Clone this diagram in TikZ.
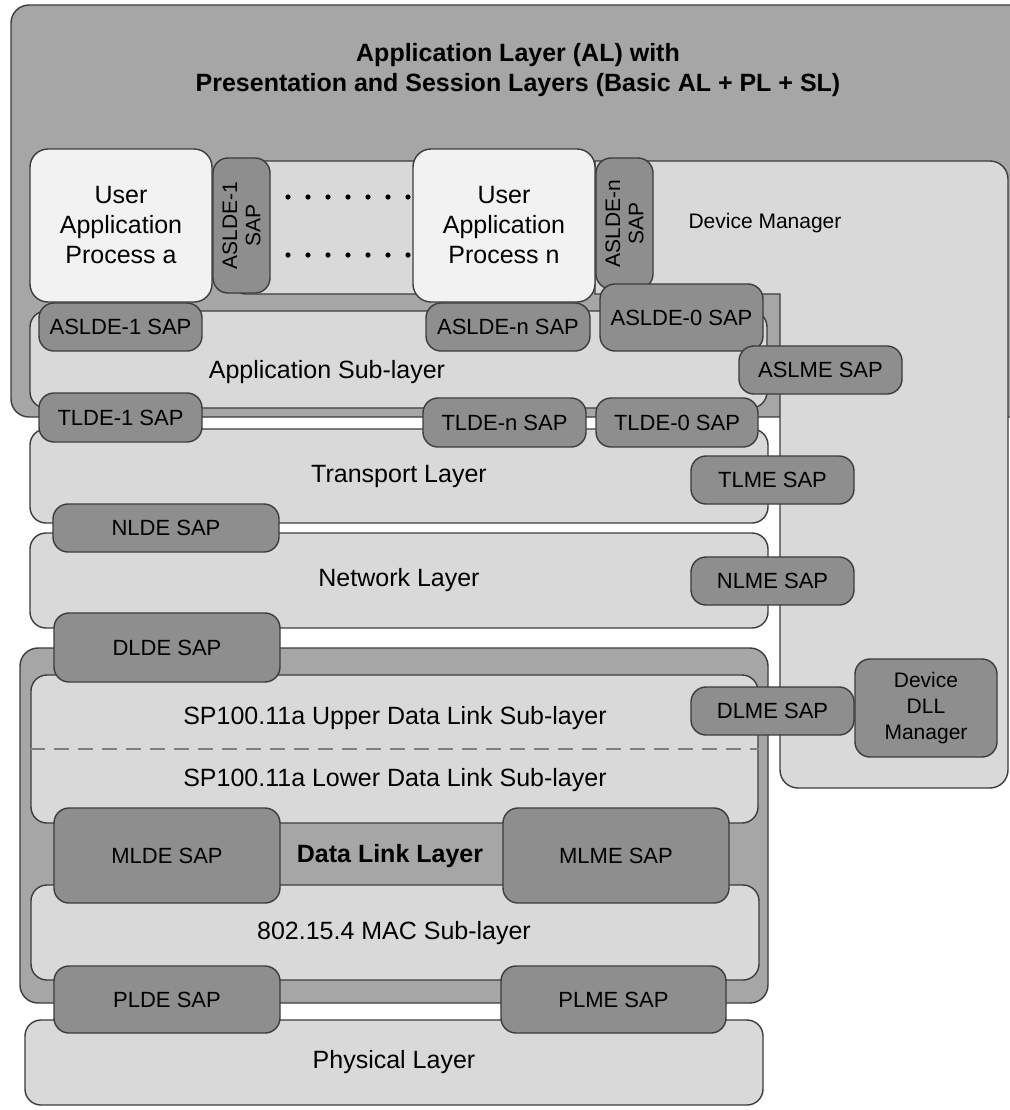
\documentclass[tikz,border=0pt]{standalone}
\usepackage{fontspec}
\setmainfont{Liberation Sans}
\usepackage{xcolor}
\usetikzlibrary{fit}
\definecolor{algray}{HTML}{A6A6A6}
\definecolor{sapgray}{HTML}{8E8E8E}
\definecolor{layergray}{HTML}{D9D9D9}
\definecolor{procgray}{HTML}{F2F2F2}
\definecolor{edgegray}{HTML}{3C3C3C}
\definecolor{dashgray}{HTML}{7F7F7F}
\tikzset{x=0.5pt, y=-0.5pt,
         every node/.style={inner sep=0pt},
         base/.style={draw=edgegray, line width=0.7pt, rounded corners=8pt},
         bigtext/.style={align=center, font=\fontsize{12.5}{15}\selectfont},
         saptext/.style={align=center, font=\fontsize{11}{13}\selectfont},
         vsaptext/.style={rotate=90, align=center, font=\fontsize{10.5}{11.7}\selectfont},
         layer/.style={base, fill=layergray, label={[bigtext]center:#1}},
         layer/.default={},
         outer/.style={base, fill=algray, rounded corners=9pt},
         proc/.style={base, fill=procgray, rounded corners=9pt, label={[bigtext]center:#1}},
         sap/.style={base, fill=sapgray, rounded corners=7.5pt, label={[saptext]center:#1}},
         vsap/.style={base, fill=sapgray, rounded corners=7.5pt, label={[vsaptext]center:#1}},
         lbl/.style={bigtext},
         boldlbl/.style={align=center, font=\fontsize{12.5}{15}\selectfont\bfseries},
         dashline/.style={draw=dashgray, line width=1.4pt, dash pattern=on 7.5pt off 4.5pt},
         }

\begin{document}
\begin{tikzpicture}
    \useasboundingbox (0,0) rectangle (1010,1110);
    \clip (0,0) rectangle (1010,1110);

    \node[outer, fit={(11,5) (1040,417)}] (al) {};
    \node[boldlbl] (altitle) at (518,70) {Application Layer (AL) with\\Presentation and Session Layers (Basic AL + PL + SL)};

    \draw[layer] (595,161) [rounded corners=9pt] -- (1008,161) -- (1008,788) -- (780,788)
                 [sharp corners] -- (780,294) -- (595,294) -- cycle;
    \node[lbl, font=\fontsize{10.5}{13}\selectfont] (dm) at (765,223) {Device Manager};

    \node[layer, fit={(230,161) (440,294)}] (procarea) {};
    \foreach \i in {0,...,6} {
        \fill (288+20*\i,197) circle (1.3pt);
        \fill (288+20*\i,255) circle (1.3pt);
    }
    \node[proc={User\\Application\\Process a}, fit={(30,149) (212,302)}] (uapa) {};
    \node[proc={User\\Application\\Process n}, fit={(413,149) (595,302)}] (uapn) {};
    \node[vsap={ASLDE-1\\SAP}, fit={(213,158) (270,293)}] (asldeva) {};
    \node[vsap={ASLDE-n\\SAP}, fit={(596,158) (653,289)}] (asldevn) {};

    \node[layer, fit={(30,311) (767,408)}] (asl) {};
    \node[lbl] (asltext) at (327,372) {Application Sub-layer};
    \node[sap={ASLDE-1 SAP}, fit={(39,303) (202,351)}] (asldea) {};
    \node[sap={ASLDE-n SAP}, fit={(426,303) (590,351)}] (asldn) {};
    \node[sap={ASLDE-0 SAP}, fit={(600,284) (763,351)}] (aslde0) {};
    \node[sap={ASLME SAP}, fit={(739,346) (902,394)}] (aslme) {};

    \node[layer={Transport Layer}, fit={(30,429) (768,523)}] (tl) {};
    \node[sap={TLDE-1 SAP}, fit={(39,393) (202,442)}] (tldea) {};
    \node[sap={TLDE-n SAP}, fit={(423,398) (586,447)}] (tlden) {};
    \node[sap={TLDE-0 SAP}, fit={(596,398) (758,447)}] (tlde0) {};
    \node[sap={TLME SAP}, fit={(691,456) (854,504)}] (tlme) {};
    \node[layer={Network Layer}, fit={(30,533) (768,628)}] (nl) {};
    \node[sap={NLDE SAP}, fit={(53,504) (279,552)}] (nlde) {};
    \node[sap={NLME SAP}, fit={(691,557) (854,605)}] (nlme) {};

    \node[outer, fit={(20,648) (768,1003)}] (dll) {};
    \node[layer, fit={(31,675) (758,823)}] (dlsub) {};
    \draw[dashline] (dlsub.west) -- (dlsub.east);
    \node[lbl] (udl) at (395,718) {SP100.11a Upper Data Link Sub-layer};
    \node[lbl] (ldl) at (395,780) {SP100.11a Lower Data Link Sub-layer};
    \node[sap={DLDE SAP}, fit={(54,613) (280,682)}] (dlde) {};
    \node[sap={DLME SAP}, fit={(691,687) (854,735)}] (dlme) {};
    \node[base, fill=sapgray, rounded corners=7.5pt, fit={(855,659) (997,757)},
          label={[align=center, font=\fontsize{10.5}{13}\selectfont]center:Device\\DLL\\Manager}] (ddllm) {};

    \node[layer, fit={(31,885) (759,980)}] (mac) {};
    \node[lbl] (mactext) at (394,933) {802.15.4 MAC Sub-layer};
    \node[sap={MLDE SAP}, fit={(54,808) (280,903)}] (mlde) {};
    \node[sap={MLME SAP}, fit={(503,808) (729,903)}] (mlme) {};
    \node[boldlbl] (dlltext) at (390,856) {Data Link Layer};

    \node[layer={Physical Layer}, fit={(25,1020) (763,1105)}] (phy) {};
    \node[sap={PLDE SAP}, fit={(54,966) (280,1033)}] (plde) {};
    \node[sap={PLME SAP}, fit={(501,966) (726,1033)}] (plme) {};
\end{tikzpicture}
\end{document}
